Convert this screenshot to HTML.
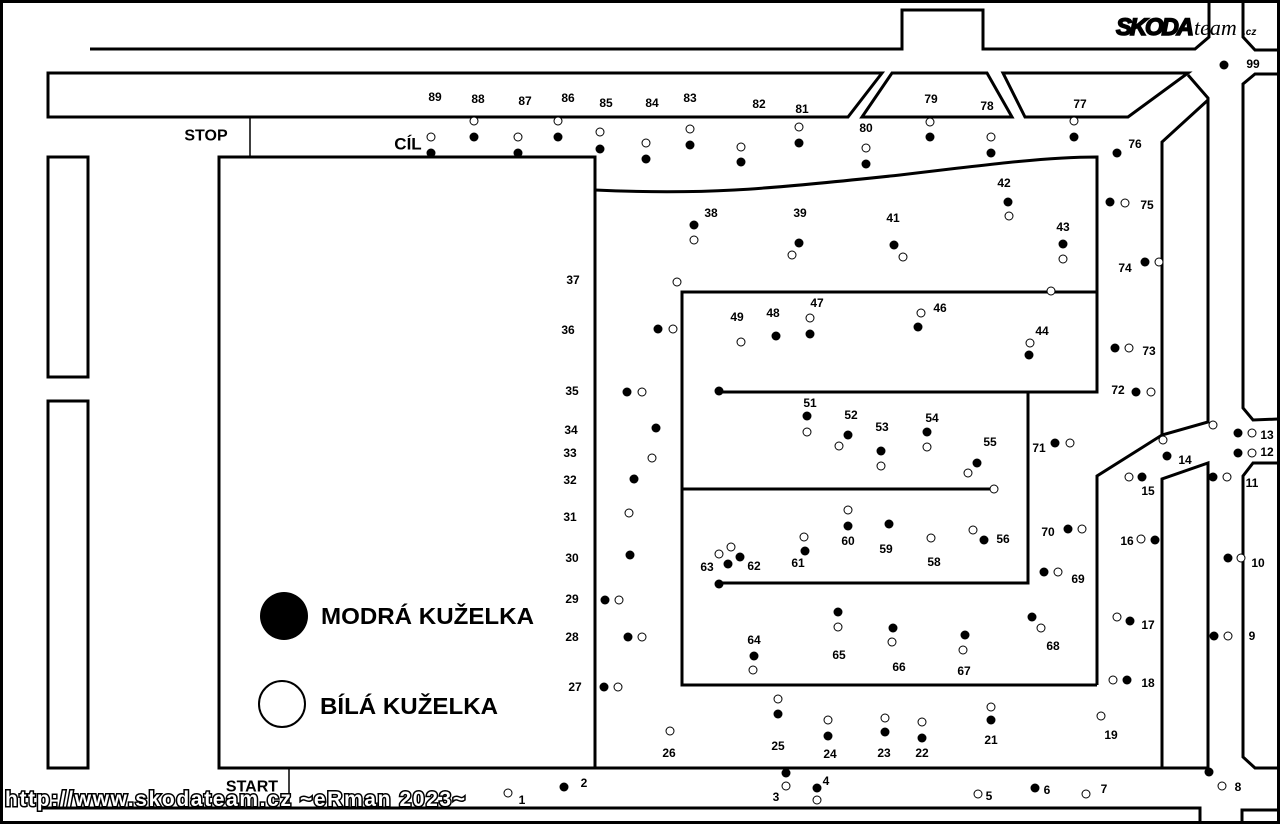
<!DOCTYPE html>
<html><head><meta charset="utf-8"><style>
html,body{margin:0;padding:0;background:#fff}
svg{display:block}
.l{fill:none;stroke:#000;stroke-width:3}
.t{font-family:"Liberation Sans",sans-serif;font-weight:bold;font-size:12px;fill:#000;text-anchor:middle;dominant-baseline:central}
.b{fill:#000}
.w{fill:#fff;stroke:#000;stroke-width:1}
</style></head><body>
<svg width="1280" height="824" viewBox="0 0 1280 824" xmlns="http://www.w3.org/2000/svg">
<rect x="1.5" y="1.5" width="1277" height="821" fill="#fff" stroke="#000" stroke-width="3"/>
<g class="l">
<polyline points="90,49 902,49 902,10 983,10 983,49 1195,49 1209,37 1209,0"/>
<polyline points="1243,0 1243,37 1255,50 1278,50"/>
<polyline points="1278,74 1255,74 1243,84 1243,408 1253,420 1278,419"/>
<polyline points="1278,463 1253,463 1243,476 1243,757 1255,768 1278,768"/>
<polygon points="48,73 882,73 848,117 48,117"/>
<polygon points="892,73 987,73 1012,117 862,117"/>
<polygon points="1003,73 1188,73 1128,117 1025,117"/>
<polyline points="1188,75 1208,98 1208,422 1162,435 1097,476 1097,685"/>
<polyline points="1208,100 1162,142 1162,435"/>
<polyline points="1162,768 1162,479 1208,463 1208,768"/>
<line x1="595" y1="768" x2="1208" y2="768"/>
<polyline points="40,808 1200,808 1200,822"/>
<polyline points="1242,822 1242,810 1278,810"/>
<rect x="219" y="157" width="376" height="611"/>
<rect x="48" y="157" width="40" height="220"/>
<rect x="48" y="401" width="40" height="367"/>
<path d="M595,190 C700,195 760,190 900,175 C1000,163 1050,157 1097,157 L1097,392 L719,392"/>
<polyline points="1097,292 682,292 682,685 1097,685"/>
<polyline points="682,489 994,489"/>
<polyline points="719,583 1028,583 1028,392"/>
</g>
<g stroke="#000" stroke-width="1.5"><line x1="250" y1="117" x2="250" y2="157"/><line x1="289" y1="768" x2="289" y2="808"/></g>
<g class="t">
<text x="435" y="97">89</text><text x="478" y="99">88</text><text x="525" y="101">87</text><text x="568" y="98">86</text><text x="606" y="103">85</text><text x="652" y="103">84</text><text x="690" y="98">83</text><text x="759" y="104">82</text><text x="802" y="109">81</text><text x="866" y="128">80</text><text x="931" y="99">79</text><text x="987" y="106">78</text><text x="1080" y="104">77</text><text x="1135" y="144">76</text><text x="1253" y="64">99</text><text x="1147" y="205">75</text><text x="1125" y="268">74</text><text x="1149" y="351">73</text><text x="1118" y="390">72</text><text x="1267" y="435">13</text><text x="1267" y="452">12</text><text x="1185" y="460">14</text><text x="1252" y="483">11</text><text x="1148" y="491">15</text><text x="1127" y="541">16</text><text x="1258" y="563">10</text><text x="1252" y="636">9</text><text x="1148" y="625">17</text><text x="1148" y="683">18</text><text x="1111" y="735">19</text><text x="1238" y="787">8</text><text x="1104" y="789">7</text><text x="1047" y="790">6</text><text x="989" y="796">5</text><text x="991" y="740">21</text><text x="922" y="753">22</text><text x="884" y="753">23</text><text x="830" y="754">24</text><text x="778" y="746">25</text><text x="669" y="753">26</text><text x="826" y="781">4</text><text x="776" y="797">3</text><text x="584" y="783">2</text><text x="522" y="800">1</text><text x="575" y="687">27</text><text x="572" y="637">28</text><text x="572" y="599">29</text><text x="572" y="558">30</text><text x="570" y="517">31</text><text x="570" y="480">32</text><text x="570" y="453">33</text><text x="571" y="430">34</text><text x="572" y="391">35</text><text x="568" y="330">36</text><text x="573" y="280">37</text><text x="711" y="213">38</text><text x="800" y="213">39</text><text x="893" y="218">41</text><text x="1004" y="183">42</text><text x="1063" y="227">43</text><text x="1042" y="331">44</text><text x="940" y="308">46</text><text x="817" y="303">47</text><text x="773" y="313">48</text><text x="737" y="317">49</text><text x="810" y="403">51</text><text x="851" y="415">52</text><text x="882" y="427">53</text><text x="932" y="418">54</text><text x="990" y="442">55</text><text x="1003" y="539">56</text><text x="934" y="562">58</text><text x="886" y="549">59</text><text x="848" y="541">60</text><text x="798" y="563">61</text><text x="754" y="566">62</text><text x="707" y="567">63</text><text x="754" y="640">64</text><text x="839" y="655">65</text><text x="899" y="667">66</text><text x="964" y="671">67</text><text x="1053" y="646">68</text><text x="1078" y="579">69</text><text x="1048" y="532">70</text><text x="1039" y="448">71</text>
<text x="206" y="136" style="font-size:16px">STOP</text><text x="408" y="144" style="font-size:17px">CÍL</text><text x="252" y="787" style="font-size:16px">START</text>
</g>
<g class="b">
<circle cx="431" cy="153" r="4.5"/><circle cx="474" cy="137" r="4.5"/><circle cx="518" cy="153" r="4.5"/><circle cx="558" cy="137" r="4.5"/><circle cx="600" cy="149" r="4.5"/><circle cx="646" cy="159" r="4.5"/><circle cx="690" cy="145" r="4.5"/><circle cx="741" cy="162" r="4.5"/><circle cx="799" cy="143" r="4.5"/><circle cx="866" cy="164" r="4.5"/><circle cx="930" cy="137" r="4.5"/><circle cx="991" cy="153" r="4.5"/><circle cx="1074" cy="137" r="4.5"/><circle cx="1117" cy="153" r="4.5"/><circle cx="1224" cy="65" r="4.5"/><circle cx="1110" cy="202" r="4.5"/><circle cx="1145" cy="262" r="4.5"/><circle cx="1115" cy="348" r="4.5"/><circle cx="1136" cy="392" r="4.5"/><circle cx="1238" cy="433" r="4.5"/><circle cx="1238" cy="453" r="4.5"/><circle cx="1167" cy="456" r="4.5"/><circle cx="1213" cy="477" r="4.5"/><circle cx="1142" cy="477" r="4.5"/><circle cx="1155" cy="540" r="4.5"/><circle cx="1228" cy="558" r="4.5"/><circle cx="1214" cy="636" r="4.5"/><circle cx="1130" cy="621" r="4.5"/><circle cx="1127" cy="680" r="4.5"/><circle cx="1209" cy="772" r="4.5"/><circle cx="1035" cy="788" r="4.5"/><circle cx="991" cy="720" r="4.5"/><circle cx="922" cy="738" r="4.5"/><circle cx="885" cy="732" r="4.5"/><circle cx="828" cy="736" r="4.5"/><circle cx="778" cy="714" r="4.5"/><circle cx="817" cy="788" r="4.5"/><circle cx="786" cy="773" r="4.5"/><circle cx="564" cy="787" r="4.5"/><circle cx="604" cy="687" r="4.5"/><circle cx="628" cy="637" r="4.5"/><circle cx="605" cy="600" r="4.5"/><circle cx="630" cy="555" r="4.5"/><circle cx="634" cy="479" r="4.5"/><circle cx="656" cy="428" r="4.5"/><circle cx="627" cy="392" r="4.5"/><circle cx="658" cy="329" r="4.5"/><circle cx="694" cy="225" r="4.5"/><circle cx="799" cy="243" r="4.5"/><circle cx="894" cy="245" r="4.5"/><circle cx="1008" cy="202" r="4.5"/><circle cx="1063" cy="244" r="4.5"/><circle cx="1029" cy="355" r="4.5"/><circle cx="918" cy="327" r="4.5"/><circle cx="810" cy="334" r="4.5"/><circle cx="776" cy="336" r="4.5"/><circle cx="719" cy="391" r="4.5"/><circle cx="807" cy="416" r="4.5"/><circle cx="848" cy="435" r="4.5"/><circle cx="881" cy="451" r="4.5"/><circle cx="927" cy="432" r="4.5"/><circle cx="977" cy="463" r="4.5"/><circle cx="984" cy="540" r="4.5"/><circle cx="889" cy="524" r="4.5"/><circle cx="848" cy="526" r="4.5"/><circle cx="805" cy="551" r="4.5"/><circle cx="740" cy="557" r="4.5"/><circle cx="728" cy="564" r="4.5"/><circle cx="719" cy="584" r="4.5"/><circle cx="754" cy="656" r="4.5"/><circle cx="838" cy="612" r="4.5"/><circle cx="893" cy="628" r="4.5"/><circle cx="965" cy="635" r="4.5"/><circle cx="1032" cy="617" r="4.5"/><circle cx="1044" cy="572" r="4.5"/><circle cx="1068" cy="529" r="4.5"/><circle cx="1055" cy="443" r="4.5"/>
<circle cx="284" cy="616" r="24"/>
</g>
<g class="w">
<circle cx="431" cy="137" r="4"/><circle cx="474" cy="121" r="4"/><circle cx="518" cy="137" r="4"/><circle cx="558" cy="121" r="4"/><circle cx="600" cy="132" r="4"/><circle cx="646" cy="143" r="4"/><circle cx="690" cy="129" r="4"/><circle cx="741" cy="147" r="4"/><circle cx="799" cy="127" r="4"/><circle cx="866" cy="148" r="4"/><circle cx="930" cy="122" r="4"/><circle cx="991" cy="137" r="4"/><circle cx="1074" cy="121" r="4"/><circle cx="1125" cy="203" r="4"/><circle cx="1159" cy="262" r="4"/><circle cx="1129" cy="348" r="4"/><circle cx="1151" cy="392" r="4"/><circle cx="1252" cy="433" r="4"/><circle cx="1252" cy="453" r="4"/><circle cx="1163" cy="440" r="4"/><circle cx="1213" cy="425" r="4"/><circle cx="1227" cy="477" r="4"/><circle cx="1129" cy="477" r="4"/><circle cx="1141" cy="539" r="4"/><circle cx="1241" cy="558" r="4"/><circle cx="1228" cy="636" r="4"/><circle cx="1117" cy="617" r="4"/><circle cx="1113" cy="680" r="4"/><circle cx="1101" cy="716" r="4"/><circle cx="1222" cy="786" r="4"/><circle cx="1086" cy="794" r="4"/><circle cx="978" cy="794" r="4"/><circle cx="991" cy="707" r="4"/><circle cx="922" cy="722" r="4"/><circle cx="885" cy="718" r="4"/><circle cx="828" cy="720" r="4"/><circle cx="778" cy="699" r="4"/><circle cx="670" cy="731" r="4"/><circle cx="817" cy="800" r="4"/><circle cx="786" cy="786" r="4"/><circle cx="508" cy="793" r="4"/><circle cx="618" cy="687" r="4"/><circle cx="642" cy="637" r="4"/><circle cx="619" cy="600" r="4"/><circle cx="629" cy="513" r="4"/><circle cx="652" cy="458" r="4"/><circle cx="642" cy="392" r="4"/><circle cx="673" cy="329" r="4"/><circle cx="677" cy="282" r="4"/><circle cx="694" cy="240" r="4"/><circle cx="792" cy="255" r="4"/><circle cx="903" cy="257" r="4"/><circle cx="1009" cy="216" r="4"/><circle cx="1063" cy="259" r="4"/><circle cx="1051" cy="291" r="4"/><circle cx="1030" cy="343" r="4"/><circle cx="921" cy="313" r="4"/><circle cx="810" cy="318" r="4"/><circle cx="741" cy="342" r="4"/><circle cx="807" cy="432" r="4"/><circle cx="839" cy="446" r="4"/><circle cx="881" cy="466" r="4"/><circle cx="927" cy="447" r="4"/><circle cx="968" cy="473" r="4"/><circle cx="994" cy="489" r="4"/><circle cx="973" cy="530" r="4"/><circle cx="931" cy="538" r="4"/><circle cx="848" cy="510" r="4"/><circle cx="804" cy="537" r="4"/><circle cx="731" cy="547" r="4"/><circle cx="719" cy="554" r="4"/><circle cx="753" cy="670" r="4"/><circle cx="838" cy="627" r="4"/><circle cx="892" cy="642" r="4"/><circle cx="963" cy="650" r="4"/><circle cx="1041" cy="628" r="4"/><circle cx="1058" cy="572" r="4"/><circle cx="1082" cy="529" r="4"/><circle cx="1070" cy="443" r="4"/>
<circle cx="282" cy="704" r="23" stroke-width="2"/>
</g>
<g font-family="Liberation Sans, sans-serif" font-weight="bold" font-size="23">
<text x="321" y="624" textLength="213" lengthAdjust="spacingAndGlyphs">MODRÁ KUŽELKA</text>
<text x="320" y="714" textLength="178" lengthAdjust="spacingAndGlyphs">BÍLÁ KUŽELKA</text>
</g>
<text x="1116" y="35" font-family="Liberation Sans, sans-serif" font-weight="bold" font-style="italic" font-size="24" stroke="#000" stroke-width="1.5" textLength="78">SKODA</text>
<text x="1194" y="35" font-family="Liberation Serif, serif" font-style="italic" font-size="22">team</text>
<text x="1243" y="35" font-family="Liberation Sans, sans-serif" font-weight="bold" font-style="italic" font-size="10">.cz</text>
<text x="5" y="806" font-family="Liberation Sans, sans-serif" font-weight="bold" font-size="21" fill="#fff" stroke="#000" stroke-width="3" paint-order="stroke" textLength="460">http://www.skodateam.cz ~eRman 2023~</text>
</svg>
</body></html>
